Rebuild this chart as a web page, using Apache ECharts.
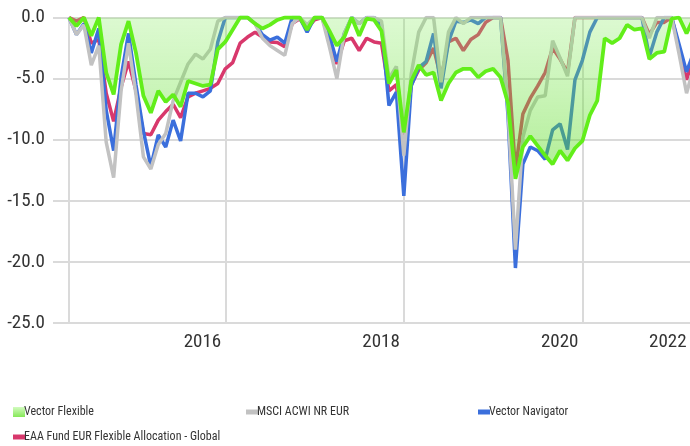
<!DOCTYPE html>
<html>
<head>
<meta charset="utf-8">
<script src="https://cdn.jsdelivr.net/npm/echarts@6/dist/echarts.min.js"></script>
<style>
html,body{margin:0;padding:0;background:#fff;overflow:hidden;width:690px;height:446px;}
#chart{width:694px;height:446px;}
</style>
</head>
<body>
<div id="chart"></div>
<script>
// Month-end categories, Mar 2015 .. Mar 2022
const months = [];
for (let y = 2015, m = 3; ; m++) {
  if (m > 12) { m = 1; y++; }
  if (y === 2022 && m > 3) break;
  months.push(y + '-' + String(m).padStart(2, '0'));
}

const vectorFlexible = [
  0, -0.7, 0, -1.5, 0, -4.5, -6.3, -2.2, -0.3, -2.9,
  -6.4, -7.8, -6.0, -6.9, -6.3, -7.3, -5.2, -5.4, -5.6, -5.5,
  -2.6, -2.0, -1.0, 0, 0, -0.5, -0.9, -0.6, -0.2, 0,
  0, 0, -1.0, 0, 0, -1.1, -2.3, -1.6, 0, -1.5,
  -0.1, -0.2, -1.1, -5.4, -4.3, -9.4, -5.2, -3.9, -4.7, -4.5,
  -6.8, -5.4, -4.5, -4.2, -4.2, -4.9, -4.4, -4.2, -4.9, -7.0,
  -13.2, -10.6, -9.7, -10.5, -11.3, -12.0, -10.9, -11.7, -10.7, -10.1,
  -8.0, -6.8, -1.7, -2.1, -1.7, -0.6, -1.0, -0.9, -3.4, -2.9,
  -2.8, -0.1, 0, -1.3, 0
];
const msciAcwi = [
  0, -1.4, -0.6, -3.9, -2.3, -10.2, -13.1, -6.0, -2.1, -6.3,
  -11.4, -12.4, -10.4, -9.5, -6.8, -5.3, -3.8, -3.0, -3.4, -2.6,
  -0.3, 0, 0, 0, 0, -0.5, -1.7, -2.3, -2.7, -3.1,
  -0.5, 0, -0.6, 0, 0, -2.4, -5.0, -1.3, 0, -0.5,
  0, 0, -0.3, -5.0, -4.0, -11.3, -4.6, -1.2, 0, 0,
  -5.3, -1.2, 0, -0.5, 0, 0, 0, 0, 0, -7.5,
  -19.0, -9.8, -7.6, -6.5, -6.4, -1.9, -3.3, -4.8, 0, 0,
  0, 0, 0, 0, 0, 0, 0, 0, -1.7, 0,
  0, 0, -3.0, -6.2, -4.0
];
const vectorNavigator = [
  0, -1.4, -0.5, -2.9, -0.9, -7.6, -10.9, -4.9, -1.3, -5.5,
  -9.3, -12.2, -9.6, -10.6, -8.4, -10.1, -6.2, -6.2, -6.5, -6.0,
  -2.0, 0, 0, 0, 0, -0.5, -1.4, -1.85, -1.6, -2.1,
  0, 0, -1.2, 0, 0, -1.5, -3.6, -1.3, 0, -0.5,
  0, 0, -0.6, -7.2, -6.1, -14.6, -5.6, -4.1, -3.6, -1.3,
  -5.8, -2.0, -0.3, -0.4, -0.2, -0.5, 0, 0, 0, -8.0,
  -20.5, -12.0, -10.6, -10.9, -11.6, -9.2, -8.7, -10.8, -5.1, -3.5,
  -1.2, 0, 0, 0, 0, 0, 0, 0, -3.2, -1.2,
  0, 0, -2.2, -4.45, -2.8
];
const eaaFlexible = [
  0, -0.3, 0, -2.1, -1.8, -6.2, -8.5, -5.7, -3.6, -6.0,
  -9.5, -9.6, -8.4, -7.7, -7.1, -8.2, -6.5, -6.2, -6.0, -5.8,
  -5.4, -4.2, -3.7, -2.1, -1.6, -1.2, -1.6, -2.0, -2.05, -2.4,
  -0.5, -0.1, -0.9, -0.2, 0, -1.8, -3.8, -1.9, -1.7, -2.7,
  -1.7, -2.0, -2.1, -6.0, -5.5, -10.8, -5.5, -4.3, -3.7, -2.5,
  -5.0, -2.0, -1.7, -2.7, -1.8, -1.4, -0.4, 0, 0, -3.5,
  -12.5, -7.9, -6.6, -5.6, -4.5, -2.5, -3.4, -4.5, 0, 0,
  0, 0, 0, 0, 0, 0, 0, 0, -1.4, -0.4,
  -0.4, 0, -2.5, -5.1, -3.2
];

// x tick labels (year label drawn at the year-end category)
const yearLabels = { '2016-12': '2016', '2018-12': '2018', '2020-12': '2020', '2022-02': '2022' };
const gridMonths = ['2015-03', '2016-12', '2018-12', '2020-12'];
const names = ['Vector Flexible', 'MSCI ACWI NR EUR', 'Vector Navigator', 'EAA Fund EUR Flexible Allocation - Global'];

const FONT = "'Liberation Sans Narrow', 'Roboto Condensed', Roboto, sans-serif";
const GRID = '#dadada';

const chart = echarts.init(document.getElementById('chart'), null, { renderer: 'canvas' });
const legendGradient = new echarts.graphic.LinearGradient(0, 0, 0, 1, [
  { offset: 0, color: '#d2fbbf' }, { offset: 1, color: '#86e858' }
]);
const legendText = { fontSize: 12, color: '#333', fontFamily: FONT, padding: [0, 0, 0, -6] };

chart.setOption({
  animation: false,
  grid: { left: 69, right: 0, top: 17.5, bottom: 123, containLabel: false },
  xAxis: {
    type: 'category',
    data: months,
    boundaryGap: false,
    axisLine: { show: false },
    axisTick: {
      show: true, length: 10,
      interval: (i, v) => gridMonths.includes(v),
      lineStyle: { color: GRID, width: 2 }
    },
    splitLine: {
      show: true,
      interval: (i, v) => gridMonths.includes(v),
      lineStyle: { color: GRID, width: 2 }
    },
    axisLabel: {
      interval: (i, v) => yearLabels[v] !== undefined,
      align: 'right',
      margin: 10,
      color: '#333',
      fontSize: 19,
      fontFamily: FONT,
      formatter: v => v === '2022-02' ? '{e|' + yearLabels[v] + '}' : '{r|' + yearLabels[v] + '}',
      rich: {
        r: { padding: [0, 4, 0, 0], fontSize: 19, fontFamily: FONT, color: '#333' },
        e: { padding: [0, 0, 0, 0], fontSize: 19, fontFamily: FONT, color: '#333' }
      }
    }
  },
  yAxis: {
    type: 'value',
    min: -25, max: 0, interval: 5,
    axisLine: { show: false },
    axisTick: { show: true, length: 16, lineStyle: { color: GRID, width: 2 } },
    splitLine: { show: true, lineStyle: { color: GRID, width: 2 } },
    axisLabel: {
      margin: 24, color: '#333', fontSize: 19, fontFamily: FONT,
      formatter: v => v.toFixed(1)
    }
  },
  legend: [
    { data: [{ name: names[0], icon: 'rect', itemStyle: { color: legendGradient } }],
      left: 8, top: 401, itemWidth: 12, itemHeight: 10, selectedMode: false, textStyle: legendText },
    { data: [{ name: names[1], icon: 'rect' }],
      left: 241, top: 401, itemWidth: 12, itemHeight: 5, selectedMode: false, textStyle: legendText },
    { data: [{ name: names[2], icon: 'rect' }],
      left: 473, top: 401, itemWidth: 12, itemHeight: 5, selectedMode: false, textStyle: legendText },
    { data: [{ name: names[3], icon: 'rect' }],
      left: 8, top: 426, itemWidth: 12, itemHeight: 5, selectedMode: false, textStyle: legendText }
  ],
  series: [
    { name: names[3], type: 'line', data: eaaFlexible, symbol: 'none', z: 2,
      lineStyle: { color: '#d8386c', width: 3.5 }, itemStyle: { color: '#d8386c' } },
    { name: names[2], type: 'line', data: vectorNavigator, symbol: 'none', z: 3,
      lineStyle: { color: '#3b6fdc', width: 3.5 }, itemStyle: { color: '#3b6fdc' } },
    { name: names[1], type: 'line', data: msciAcwi, symbol: 'none', z: 4,
      lineStyle: { color: '#c2c2c2', width: 3.5 }, itemStyle: { color: '#c2c2c2' } },
    { name: names[0], type: 'line', data: vectorFlexible, symbol: 'none', z: 5,
      lineStyle: { color: '#62ee1a', width: 3.8 }, itemStyle: { color: '#62ee1a' },
      areaStyle: {
        origin: 'end',
        color: new echarts.graphic.LinearGradient(0, 0, 0, 1, [
          { offset: 0, color: 'rgba(130,235,90,0.4)' },
          { offset: 1, color: 'rgba(80,215,20,0.66)' }
        ])
      } }
  ]
});
</script>
</body>
</html>
